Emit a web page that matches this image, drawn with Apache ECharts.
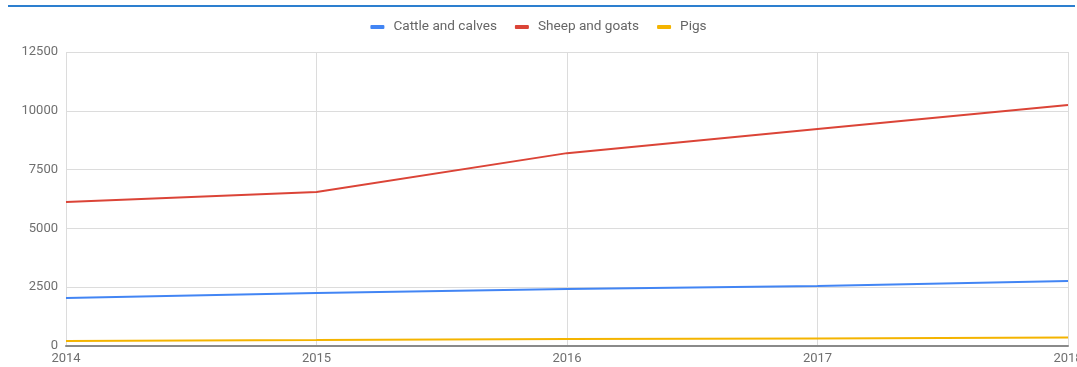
<!DOCTYPE html>
<html><head><meta charset="utf-8">
<script src="https://cdn.jsdelivr.net/npm/echarts@6/dist/echarts.min.js"></script>
<style>html,body{margin:0;padding:0;background:#fff}#c{width:1077px;height:367px}</style>
</head><body><div id="c"></div>
<script>
const categories = ['2014','2015','2016','2017','2018'];
const cattle = [2040, 2250, 2420, 2550, 2760];
const sheep = [6120, 6550, 8200, 9230, 10250];
const pigs = [215, 255, 300, 320, 360];
const seriesNames = ['Cattle and calves','Sheep and goats','Pigs'];
const colors = ['#4285F4','#DB4437','#F4B400'];

const chart = echarts.init(document.getElementById('c'), null, {renderer:'canvas'});
const mk = (name, data, color) => ({
  name, type:'line', data, symbol:'none', smooth:false,
  lineStyle:{width:2, color}, itemStyle:{color}
});
chart.setOption({
  animation:false,
  textStyle:{fontFamily:'Roboto'},
  legend:{
    top:15, left:'center', itemWidth:14, itemHeight:4, itemGap:18, icon:'roundRect',
    textStyle:{color:'#666666', fontSize:13.6, fontFamily:'Roboto', padding:[0,0,0,4]},
    data: seriesNames
  },
  grid:{left:66, right:9, top:52, bottom:21, containLabel:false, outerBoundsMode:'none'},
  xAxis:{
    type:'category', data:categories, boundaryGap:false,
    axisLine:{lineStyle:{color:'#8a8a8a', width:2}},
    axisTick:{show:false},
    axisLabel:{color:'#6f6f6f', fontSize:13, margin:6, fontFamily:'Roboto'},
    splitLine:{show:true, lineStyle:{color:'#dcdcdc', width:1}}
  },
  yAxis:{
    type:'value', min:0, max:12500, interval:2500,
    axisLine:{show:false}, axisTick:{show:false},
    axisLabel:{color:'#6f6f6f', fontSize:13, margin:8, fontFamily:'Roboto', formatter: v => String(v)},
    splitLine:{lineStyle:{color:'#dcdcdc', width:1}}
  },
  graphic:[{type:'rect', shape:{x:8, y:5, width:1067, height:2}, style:{fill:'#2d7fcf'}}],
  series:[mk(seriesNames[0], cattle, colors[0]), mk(seriesNames[1], sheep, colors[1]), mk(seriesNames[2], pigs, colors[2])]
});
</script></body></html>
